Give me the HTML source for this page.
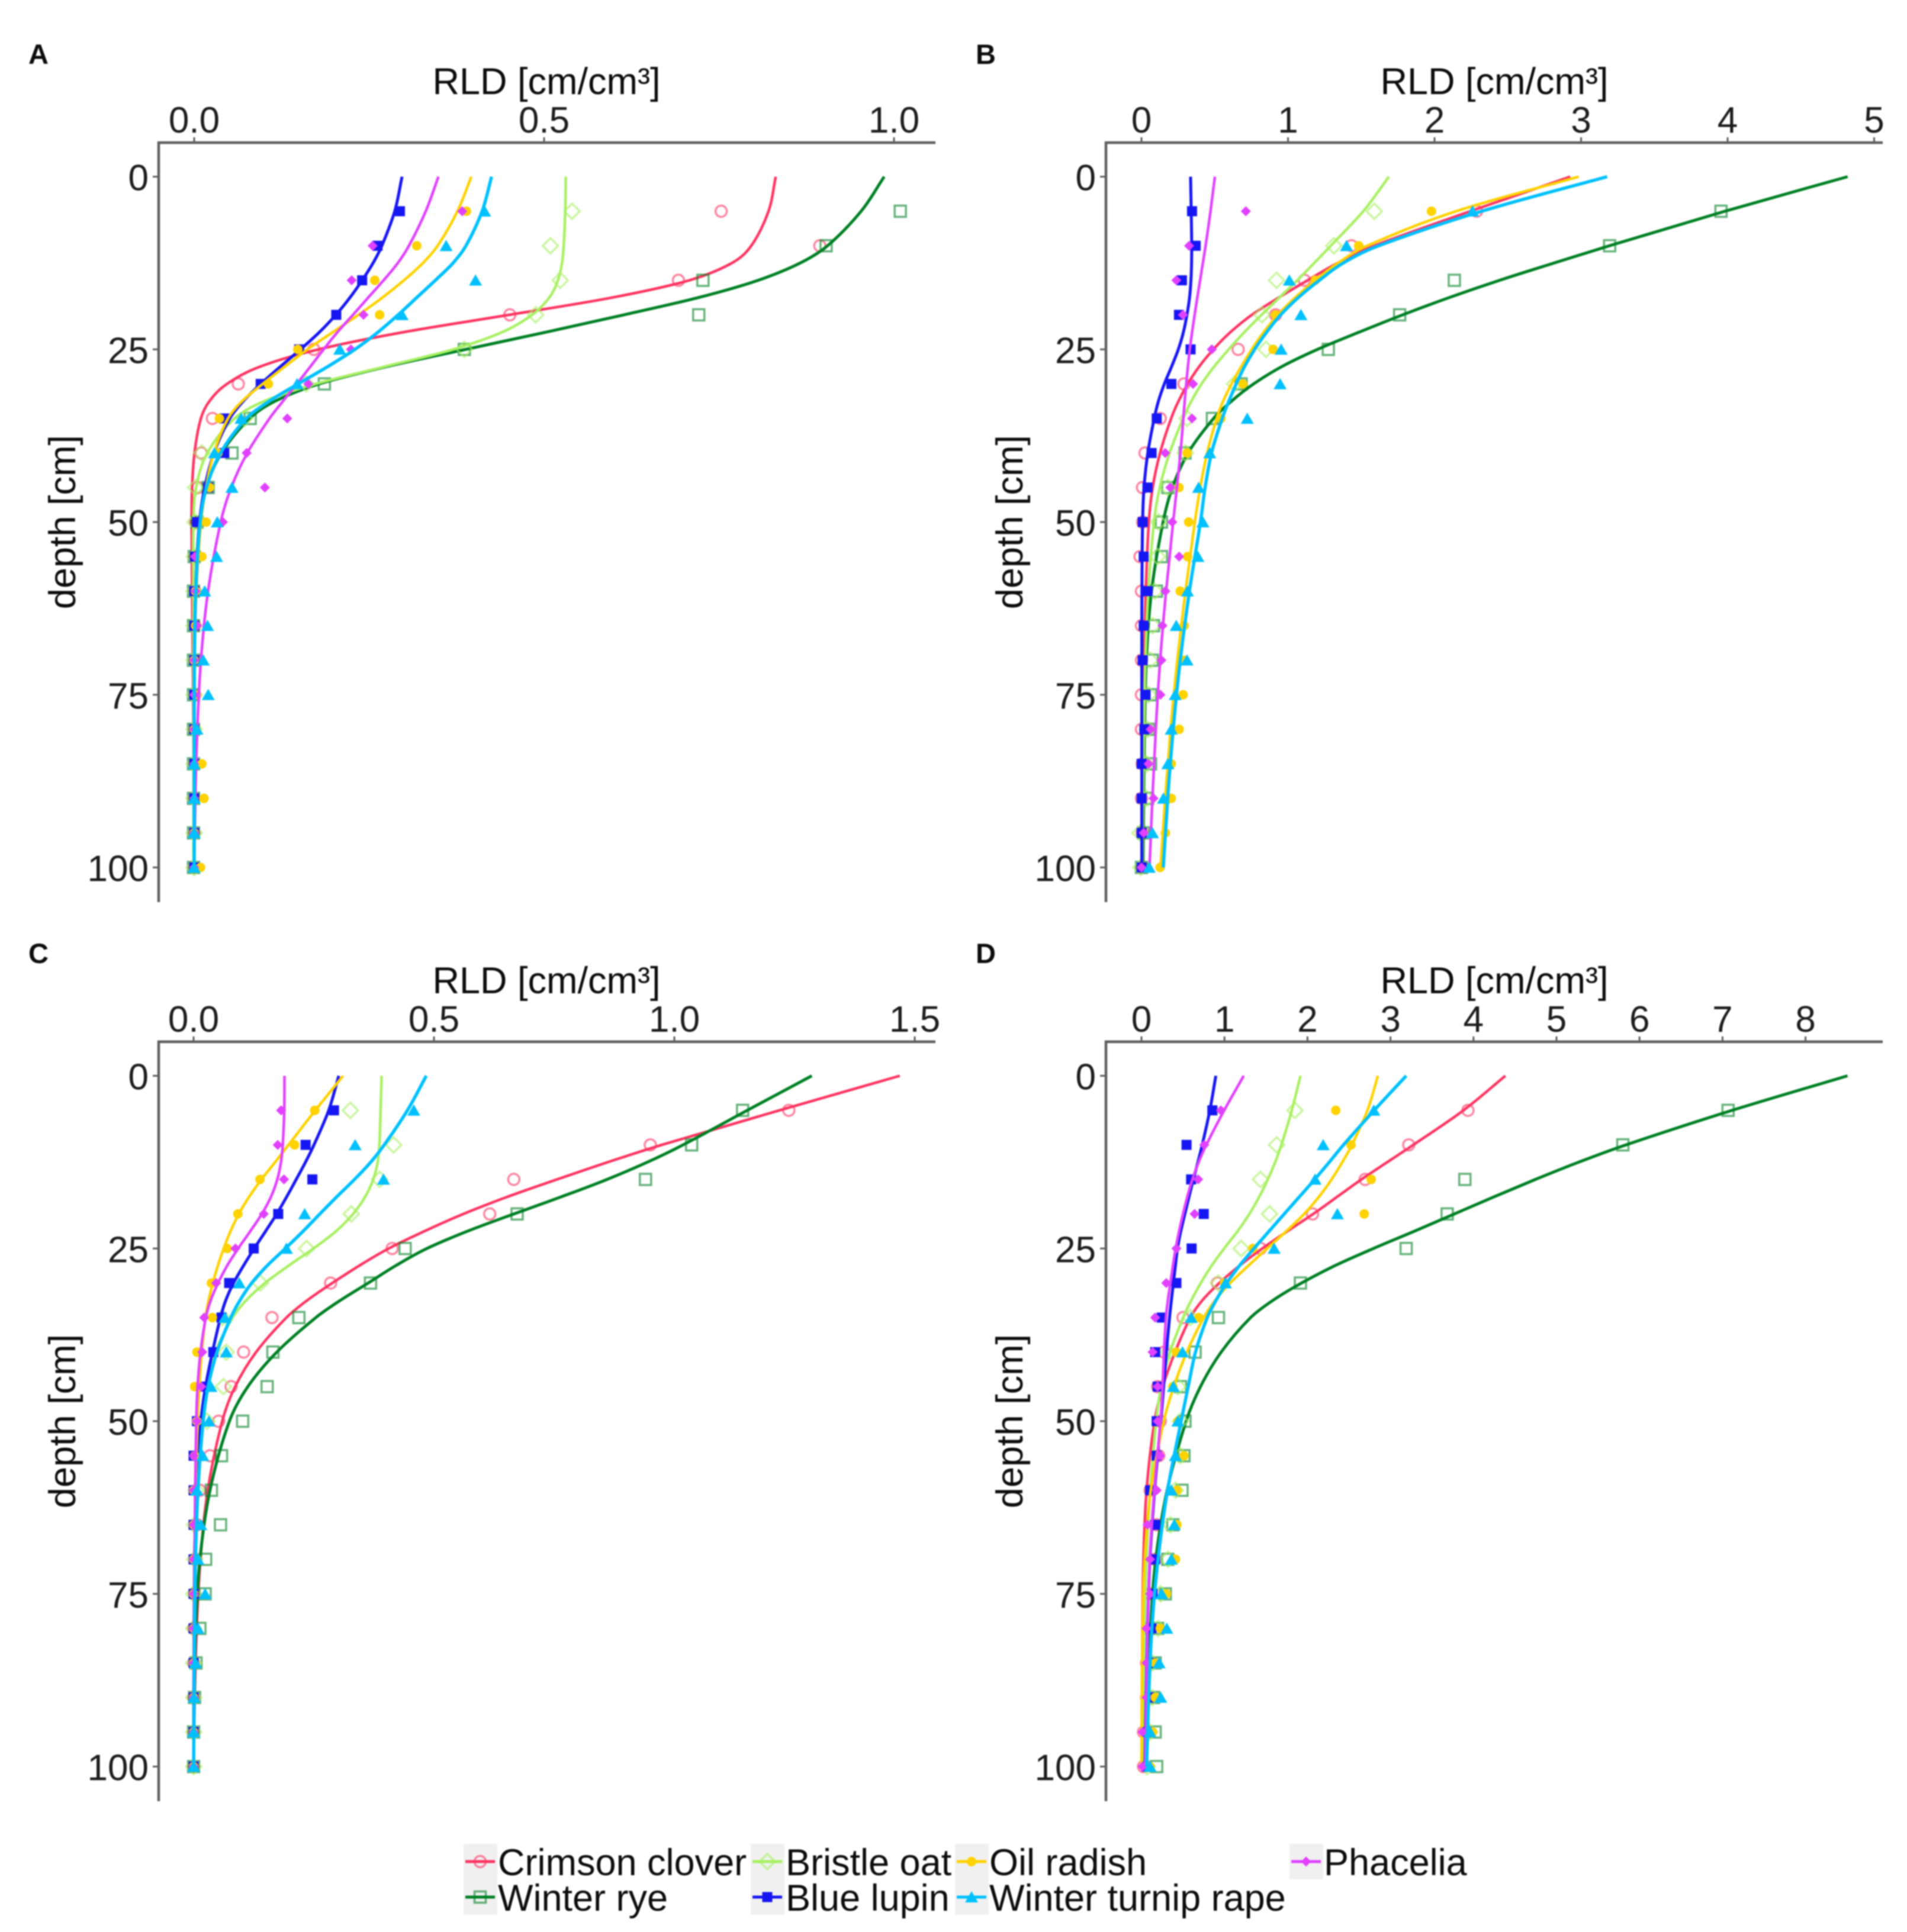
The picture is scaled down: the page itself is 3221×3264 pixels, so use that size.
<!DOCTYPE html>
<html>
<head>
<meta charset="utf-8">
<title>Root length density by depth</title>
<style>
html,body{margin:0;padding:0;background:#fff;}
svg{display:block;filter:blur(1.1px);}
text{font-family:"Liberation Sans",sans-serif;}
.title{font-size:63px;fill:#0c0c0c;}
.legend-text{font-size:63px;fill:#0c0c0c;}
.letter{font-size:47px;font-weight:bold;fill:#0c0c0c;}
.tick{font-size:62px;fill:#1c1c1c;}
</style>
</head>
<body>
<svg id="chart" xmlns="http://www.w3.org/2000/svg" width="3221" height="3264" viewBox="0 0 3221 3264">
<rect x="0" y="0" width="3221" height="3264" fill="#ffffff"/>
<text class="letter" x="48" y="108">A</text>
<text class="letter" x="1648" y="108">B</text>
<text class="letter" x="48" y="1627">C</text>
<text class="letter" x="1648" y="1627">D</text>
<text class="title" x="923" y="159" text-anchor="middle">RLD [cm/cm³]</text>
<text class="title" x="2524" y="159" text-anchor="middle">RLD [cm/cm³]</text>
<text class="title" x="923" y="1678" text-anchor="middle">RLD [cm/cm³]</text>
<text class="title" x="2524" y="1678" text-anchor="middle">RLD [cm/cm³]</text>
<text class="title" transform="translate(127,882) rotate(-90)" text-anchor="middle">depth [cm]</text>
<text class="title" transform="translate(1727,882) rotate(-90)" text-anchor="middle">depth [cm]</text>
<text class="title" transform="translate(127,2401) rotate(-90)" text-anchor="middle">depth [cm]</text>
<text class="title" transform="translate(1727,2401) rotate(-90)" text-anchor="middle">depth [cm]</text>
<rect x="783" y="3115" width="57" height="60" fill="#f0f0f0"/>
<rect x="783" y="3175" width="57" height="60" fill="#f0f0f0"/>
<rect x="1268" y="3115" width="57" height="60" fill="#f0f0f0"/>
<rect x="1268" y="3175" width="57" height="60" fill="#f0f0f0"/>
<rect x="1613" y="3115" width="57" height="60" fill="#f0f0f0"/>
<rect x="1613" y="3175" width="57" height="60" fill="#f0f0f0"/>
<rect x="2178" y="3115" width="57" height="60" fill="#f0f0f0"/>
<text class="legend-text" x="841" y="3168">Crimson clover</text>
<text class="legend-text" x="841" y="3228">Winter rye</text>
<text class="legend-text" x="1327" y="3168">Bristle oat</text>
<text class="legend-text" x="1327" y="3228">Blue lupin</text>
<text class="legend-text" x="1671" y="3168">Oil radish</text>
<text class="legend-text" x="1671" y="3228">Winter turnip rape</text>
<text class="legend-text" x="2236" y="3168">Phacelia</text>
</svg>
<script>
// Depth categories
const markerDepths = [5,10,15,20,25,30,35,40,45,50,55,60,65,70,75,80,85,90,95,100];
const curveDepths = [0,5,10,12.5,15,17.5,20,22.5,25,27.5,30,32.5,35,40,45,50,60,70,80,90,100];
const depthTicks = [0,25,50,75,100];

// Tick labels
const xTicksA = [0,0.5,1];
const xLabelsA = ['0.0','0.5','1.0'];
const xTicksB = [0,1,2,3,4,5];
const xLabelsB = ['0','1','2','3','4','5'];
const xTicksC = [0,0.5,1,1.5];
const xLabelsC = ['0.0','0.5','1.0','1.5'];
const xTicksD = [0,1,2,3,4,5,6,7,8];
const xLabelsD = ['0','1','2','3','4','5','6','7','8'];

// Panel A measured points
const aCrimsonPts = [.753,.894,.692,.451,.171,.063,.026,.010,.005,.002,.001,.001,.001,.001,.001,0,0,0,0,0];
const aRyePts = [1.009,.903,.727,.721,.386,.186,.080,.054,.020,.004,0,-.001,-.001,-.001,-.001,-.001,-.001,-.001,-.001,-.001];
const aBristlePts = [.540,.509,.523,.488,.386,.160,.072,.011,.002,.001,0,0,0,0,0,0,0,0,0,0];
const aLupinPts = [.294,.262,.240,.203,.150,.095,.043,.043,.020,.004,.001,0,0,0,0,0,0,0,0,0];
const aOilPts = [.389,.318,.258,.265,.148,.106,.036,.034,.022,.017,.011,.002,.002,0,.002,0,.011,.014,0,.009];
const aPhaceliaPts = [.383,.255,.225,.242,.224,.163,.133,.075,.101,.041,.001,.002,.004,0,0,0,0,0,0,0];
const aRapePts = [.415,.360,.402,.297,.208,.147,.067,.029,.054,.033,.032,.015,.019,.013,.020,.004,0,0,0,0];
// Panel A fitted curves
const aCrimsonFit = [.831,.827,.801,.778,.727,.611,.452,.286,.166,.080,.041,.018,.006,-.001,-.004,-.004,-.003,-.002,-.001,-.001,0];
const aRyeFit = [.986,.959,.912,.872,.814,.731,.611,.507,.387,.271,.163,.109,.072,.033,.013,.005,.001,0,0,0,0];
const aBristleFit = [.531,.531,.528,.527,.521,.512,.488,.449,.384,.271,.163,.090,.047,.011,-.001,-.002,-.001,-.001,-.001,-.001,-.001];
const aLupinFit = [.297,.291,.269,.257,.240,.224,.203,.181,.152,.123,.094,.069,.046,.025,.014,.005,.001,0,0,0,0];
const aOilFit = [.396,.380,.351,.329,.300,.271,.235,.199,.159,.130,.098,.065,.043,.025,.017,.007,.002,0,0,0,0];
const aPhaceliaFit = [.349,.334,.308,.293,.271,.248,.228,.203,.185,.166,.147,.127,.106,.072,.051,.035,.017,.008,.004,.001,0];
const aRapeFit = [.425,.416,.391,.373,.344,.318,.292,.264,.232,.192,.148,.106,.065,.033,.014,.006,.001,0,0,0,0];

// Panel B measured points
const bCrimsonPts = [2.287,1.434,1.112,.915,.660,.290,.128,.024,.007,.008,-.01,0,0,0,0,0,.005,0,.005,.005];
const bRyePts = [3.955,3.195,2.135,1.762,1.275,.680,.484,.297,.180,.136,.136,.102,.082,.073,.062,.048,.062,.042,.014,0];
const bBristlePts = [1.589,1.313,.922,.822,.850,.636,.311,.300,.180,.117,.110,.090,.076,.059,.048,.041,.035,.035,-.01,-.005];
const bLupinPts = [.345,.370,.276,.256,.335,.204,.104,.069,.041,.008,.015,.042,.015,.008,.028,.020,.001,.001,.001,.001];
const bOilPts = [1.979,1.482,1.185,.915,.898,.691,.542,.311,.256,.322,.314,.264,.291,.290,.284,.257,.203,.203,.163,.127];
const bPhaceliaPts = [.712,.325,.238,.283,.480,.352,.345,.162,.197,.210,.257,.163,.143,.136,.129,.062,.048,.082,.015,0];
const bRapePts = [2.259,1.399,1.009,1.088,.953,.946,.722,.466,.390,.419,.385,.314,.237,.311,.230,.203,.180,.150,.075,.053];
// Panel B fitted curves
const bCrimsonFit = [2.926,2.252,1.527,1.337,1.130,.940,.732,.601,.484,.387,.311,.249,.197,.117,.069,.042,.028,.017,.008,.004,.002];
const bRyeFit = [4.819,3.955,3.185,2.822,2.425,2.097,1.769,1.492,1.181,.940,.750,.611,.473,.290,.200,.140,.048,.028,.020,.015,.010];
const bBristleFit = [1.689,1.544,1.285,1.181,1.067,.940,.819,.698,.594,.491,.404,.335,.283,.180,.117,.076,.040,.025,.015,.010,.005];
const bLupinFit = [.335,.339,.345,.342,.339,.332,.311,.290,.256,.207,.152,.111,.086,.035,.012,.005,.002,.002,.002,.002,.002];
const bOilFit = [2.984,2.028,1.492,1.337,1.181,1.043,.922,.829,.750,.680,.611,.553,.508,.440,.400,.360,.300,.240,.195,.160,.130];
const bPhaceliaFit = [.501,.473,.439,.418,.401,.380,.363,.345,.328,.317,.305,.295,.285,.270,.240,.217,.165,.123,.096,.073,.055];
const bRapeFit = [3.178,2.252,1.561,1.354,1.216,1.060,.940,.853,.767,.698,.646,.594,.549,.463,.430,.412,.318,.261,.213,.176,.149];

// Panel C measured points
const cCrimsonPts = [1.238,.950,.666,.616,.413,.285,.163,.104,.078,.052,.034,.013,.007,.005,.002,0,0,0,0,0];
const cRyePts = [1.142,1.036,.940,.673,.440,.368,.219,.165,.153,.102,.058,.037,.056,.025,.024,.013,.005,.002,0,0];
const cBristlePts = [.326,.416,.387,.328,.235,.139,.060,.068,.062,.028,.007,.005,.002,.002,0,0,0,0,0,0];
const cLupinPts = [.292,.233,.247,.176,.125,.074,.058,.041,.018,.007,0,0,0,0,0,0,0,0,0,0];
const cOilPts = [.252,.210,.138,.092,.070,.037,.039,.007,.002,.007,.002,0,0,0,0,0,0,0,0,0];
const cPhaceliaPts = [.182,.175,.188,.146,.087,.047,.022,.018,.016,.007,0,0,0,0,0,0,0,0,0,0];
const cRapePts = [.458,.336,.395,.231,.193,.095,.065,.068,.036,.032,.019,.007,.015,.009,.024,.009,.004,.001,0,0];
// Panel C fitted curves
const cCrimsonFit = [1.469,1.219,.966,.861,.756,.650,.555,.482,.397,.345,.287,.234,.187,.123,.081,.055,.023,.013,.005,.002,0];
const cRyeFit = [1.286,1.149,1.024,.945,.866,.766,.666,.566,.476,.418,.366,.302,.250,.165,.107,.065,.028,.009,.003,.001,0];
const cBristleFit = [.391,.389,.387,.385,.376,.360,.334,.302,.250,.197,.144,.107,.076,.039,.023,.013,.004,.002,.001,.001,0];
const cLupinFit = [.302,.287,.250,.234,.213,.194,.174,.150,.125,.104,.081,.065,.055,.039,.023,.013,.003,.001,.001,0,0];
const cOilFit = [.311,.252,.197,.171,.139,.115,.092,.076,.062,.050,.039,.031,.023,.016,.012,.007,.003,.001,.001,0,0];
const cPhaceliaFit = [.189,.190,.186,.183,.176,.163,.144,.118,.092,.068,.050,.034,.023,.013,.007,.005,.003,.002,.001,0,0];
const cRapeFit = [.484,.450,.397,.371,.336,.297,.262,.229,.192,.150,.118,.095,.076,.044,.028,.018,.007,.003,.002,.001,0];

// Panel D measured points
const dCrimsonPts = [3.933,3.220,2.695,2.061,1.433,.915,.500,.274,.195,.226,.207,.104,.183,.165,.104,.073,.061,.061,.024,.024];
const dRyePts = [7.067,5.799,3.896,3.683,3.189,1.915,.927,.646,.470,.524,.512,.488,.378,.317,.287,.195,.165,.146,.165,.183];
const dBristlePts = [1.848,1.628,1.433,1.543,1.201,.927,.590,.320,.440,.470,.470,.410,.350,.320,.230,.200,.130,.130,.100,.070];
const dLupinPts = [.854,.543,.598,.750,.604,.421,.244,.165,.195,.183,.183,.104,.165,.165,.134,.122,.122,.104,.073,.061];
const dOilPts = [2.341,2.524,2.768,2.683,1.341,1.000,.689,.420,.378,.440,.512,.427,.427,.410,.300,.226,.165,.165,.134,.104];
const dPhaceliaPts = [.957,.756,.683,.640,.421,.299,.165,.134,.195,.195,.226,.183,.073,.104,.104,.061,.061,.061,.012,.012];
const dRapePts = [2.799,2.189,2.091,2.360,1.598,1.012,.598,.494,.384,.439,.409,.360,.396,.360,.244,.305,.213,.232,.104,.104];
// Panel D fitted curves
const dCrimsonFit = [4.384,3.945,3.262,2.970,2.634,2.360,2.085,1.750,1.445,1.171,.927,.713,.561,.400,.240,.133,.038,.019,.010,.005,.002];
const dRyeFit = [8.506,7.067,5.799,5.256,4.738,4.250,3.762,3.305,2.780,2.300,1.915,1.567,1.262,.927,.690,.512,.276,.145,.100,.080,.060];
const dBristleFit = [1.915,1.823,1.689,1.616,1.524,1.427,1.305,1.171,.988,.835,.713,.591,.500,.317,.226,.165,.100,.050,.030,.020,.010];
const dLupinFit = [.896,.835,.732,.683,.622,.573,.524,.470,.427,.410,.385,.360,.335,.300,.265,.240,.150,.090,.070,.055,.040];
const dOilFit = [2.848,2.756,2.543,2.421,2.299,2.146,1.976,1.750,1.506,1.293,1.049,.878,.732,.530,.380,.252,.074,.026,.010,.002,0];
const dPhaceliaFit = [1.232,.988,.774,.683,.610,.549,.500,.451,.409,.378,.348,.317,.287,.270,.255,.240,.145,.086,.074,.057,.043];
const dRapeFit = [3.189,2.799,2.421,2.268,2.091,1.902,1.720,1.537,1.354,1.171,1.018,.896,.774,.622,.573,.478,.288,.192,.109,.085,.062];

// Drawing code
const svg = document.getElementById('chart');
const NS = 'http://www.w3.org/2000/svg';

function mk(tag, parent) {
  const el = document.createElementNS(NS, tag);
  parent.appendChild(el);
  return el;
}

function makeXScale(origin, pxPerUnit) { return function (v) { return origin + v * pxPerUnit; }; }
function makeYScale(origin, pxPerCm) { return function (d) { return origin + d * pxPerCm; }; }

// Pull each knot gently toward the chord of its neighbours so hand-read values do not kink the curve.
function relax(xs, ys, weight) {
  return xs.map(function (x, i) {
    if (i === 0 || i === xs.length - 1) return x;
    const t = (ys[i] - ys[i - 1]) / (ys[i + 1] - ys[i - 1]);
    const chord = xs[i - 1] + t * (xs[i + 1] - xs[i - 1]);
    return x * (1 - weight) + chord * weight;
  });
}

// Non-uniform Catmull-Rom curve with x as a function of depth.
function smoothPath(rawXs, ys) {
  let xs = relax(rawXs, ys, 0.4);
  xs = relax(xs, ys, 0.25);
  const n = xs.length;
  const m = [];
  for (let i = 0; i < n; i++) {
    if (i === 0) { m.push((xs[1] - xs[0]) / (ys[1] - ys[0])); }
    else if (i === n - 1) { m.push((xs[n - 1] - xs[n - 2]) / (ys[n - 1] - ys[n - 2])); }
    else { m.push((xs[i + 1] - xs[i - 1]) / (ys[i + 1] - ys[i - 1])); }
  }
  let out = 'M' + xs[0].toFixed(1) + ' ' + ys[0].toFixed(1);
  for (let i = 0; i < n - 1; i++) {
    const h = ys[i + 1] - ys[i];
    const c1x = xs[i] + m[i] * h / 3, c1y = ys[i] + h / 3;
    const c2x = xs[i + 1] - m[i + 1] * h / 3, c2y = ys[i + 1] - h / 3;
    out += 'C' + c1x.toFixed(1) + ' ' + c1y.toFixed(1) + ' ' + c2x.toFixed(1) + ' ' + c2y.toFixed(1) + ' ' + xs[i + 1].toFixed(1) + ' ' + ys[i + 1].toFixed(1);
  }
  return out;
}

function drawMarker(parent, shape, color, cx, cy, scale) {
  let el;
  const k = scale || 1;
  if (shape === 'open-circle') {
    el = mk('circle', parent);
    el.setAttribute('cx', cx); el.setAttribute('cy', cy); el.setAttribute('r', 9.5 * k);
    el.setAttribute('fill', 'none'); el.setAttribute('stroke', color);
    el.setAttribute('stroke-width', 3.5); el.setAttribute('stroke-opacity', 0.6);
  } else if (shape === 'open-square') {
    const a = 9.5 * k;
    el = mk('rect', parent);
    el.setAttribute('x', cx - a); el.setAttribute('y', cy - a);
    el.setAttribute('width', 2 * a); el.setAttribute('height', 2 * a);
    el.setAttribute('fill', 'none'); el.setAttribute('stroke', color);
    el.setAttribute('stroke-width', 3.5); el.setAttribute('stroke-opacity', 0.6);
  } else if (shape === 'open-diamond') {
    const a = 13 * k;
    el = mk('polygon', parent);
    el.setAttribute('points', cx + ',' + (cy - a) + ' ' + (cx + a) + ',' + cy + ' ' + cx + ',' + (cy + a) + ' ' + (cx - a) + ',' + cy);
    el.setAttribute('fill', 'none'); el.setAttribute('stroke', color);
    el.setAttribute('stroke-width', 3.5); el.setAttribute('stroke-opacity', 0.6);
  } else if (shape === 'circle') {
    el = mk('circle', parent);
    el.setAttribute('cx', cx); el.setAttribute('cy', cy); el.setAttribute('r', 8 * k);
    el.setAttribute('fill', color);
  } else if (shape === 'square') {
    const a = 8.5 * k;
    el = mk('rect', parent);
    el.setAttribute('x', cx - a); el.setAttribute('y', cy - a);
    el.setAttribute('width', 2 * a); el.setAttribute('height', 2 * a);
    el.setAttribute('fill', color);
  } else if (shape === 'diamond') {
    const a = 8.5 * k;
    el = mk('polygon', parent);
    el.setAttribute('points', cx + ',' + (cy - a) + ' ' + (cx + a) + ',' + cy + ' ' + cx + ',' + (cy + a) + ' ' + (cx - a) + ',' + cy);
    el.setAttribute('fill', color);
  } else {
    const a = 11 * k, t = 10 * k, b = 9 * k;
    el = mk('polygon', parent);
    el.setAttribute('points', cx + ',' + (cy - t) + ' ' + (cx + a) + ',' + (cy + b) + ' ' + (cx - a) + ',' + (cy + b));
    el.setAttribute('fill', color);
  }
  return el;
}

// Draw order: later series sit on top
const seriesKeys = ['crimson-clover','winter-rye','bristle-oat','blue-lupin','oil-radish','phacelia','winter-turnip-rape'];
const seriesColors = ['#ff3462','#008024','#a8f062','#1616f2','#ffd200','#e040ff','#00c0ff'];
const seriesShapes = ['open-circle','open-square','open-diamond','square','circle','diamond','triangle'];
const seriesWidths = [4.5,5,4.5,5,4.5,4.5,5.5];

const panelSeriesA = [[aCrimsonPts,aCrimsonFit],[aRyePts,aRyeFit],[aBristlePts,aBristleFit],[aLupinPts,aLupinFit],[aOilPts,aOilFit],[aPhaceliaPts,aPhaceliaFit],[aRapePts,aRapeFit]];
const panelSeriesB = [[bCrimsonPts,bCrimsonFit],[bRyePts,bRyeFit],[bBristlePts,bBristleFit],[bLupinPts,bLupinFit],[bOilPts,bOilFit],[bPhaceliaPts,bPhaceliaFit],[bRapePts,bRapeFit]];
const panelSeriesC = [[cCrimsonPts,cCrimsonFit],[cRyePts,cRyeFit],[cBristlePts,cBristleFit],[cLupinPts,cLupinFit],[cOilPts,cOilFit],[cPhaceliaPts,cPhaceliaFit],[cRapePts,cRapeFit]];
const panelSeriesD = [[dCrimsonPts,dCrimsonFit],[dRyePts,dRyeFit],[dBristlePts,dBristleFit],[dLupinPts,dLupinFit],[dOilPts,dOilFit],[dPhaceliaPts,dPhaceliaFit],[dRapePts,dRapeFit]];

function drawPanel(id, left, top, x0, pxPerUnit, xTicks, xLabels, seriesData) {
  const xs = makeXScale(x0, pxPerUnit);
  const ys = makeYScale(top + 57.5, 11.67);
  const g = mk('g', svg);
  
  

  const axisX = mk('line', g);
  
  
  axisX.setAttribute('x1', left - 2); axisX.setAttribute('y1', top);
  axisX.setAttribute('x2', left + 1312); axisX.setAttribute('y2', top);
  axisX.setAttribute('stroke', '#5e5e5e'); axisX.setAttribute('stroke-width', 4.5);

  const axisY = mk('line', g);
  
  
  axisY.setAttribute('x1', left); axisY.setAttribute('y1', top - 2);
  axisY.setAttribute('x2', left); axisY.setAttribute('y2', top + 1283);
  axisY.setAttribute('stroke', '#5e5e5e'); axisY.setAttribute('stroke-width', 4.5);

  xTicks.forEach(function (v, i) {
    const t = mk('line', g);
    
    
    t.setAttribute('x1', xs(v)); t.setAttribute('x2', xs(v));
    t.setAttribute('y1', top - 9); t.setAttribute('y2', top);
    t.setAttribute('stroke', '#5e5e5e'); t.setAttribute('stroke-width', 3);
    const lab = mk('text', g);
    
    
    lab.setAttribute('class', 'tick');
    lab.setAttribute('x', xs(v)); lab.setAttribute('y', top - 17);
    lab.setAttribute('text-anchor', 'middle');
    lab.textContent = xLabels[i];
  });

  depthTicks.forEach(function (d) {
    const t = mk('line', g);
    
    
    t.setAttribute('x1', left - 10); t.setAttribute('x2', left);
    t.setAttribute('y1', ys(d)); t.setAttribute('y2', ys(d));
    t.setAttribute('stroke', '#5e5e5e'); t.setAttribute('stroke-width', 3);
    const lab = mk('text', g);
    
    
    lab.setAttribute('class', 'tick');
    lab.setAttribute('x', left - 17); lab.setAttribute('y', ys(d) + 23);
    lab.setAttribute('text-anchor', 'end');
    lab.textContent = String(d);
  });

  seriesData.forEach(function (pair, s) {
    const pts = pair[0], fit = pair[1];
    const px = fit.map(function (v) { return xs(v); });
    const py = curveDepths.map(function (d) { return ys(d); });
    const path = mk('path', g);
    
    
    path.setAttribute('d', smoothPath(px, py));
    path.setAttribute('fill', 'none');
    path.setAttribute('stroke', seriesColors[s]);
    path.setAttribute('stroke-width', seriesWidths[s]);
    pts.forEach(function (v, i) {
      const m = drawMarker(g, seriesShapes[s], seriesColors[s], xs(v), ys(markerDepths[i]));
      
      
    });
  });
}

drawPanel('a', 268, 241, 328, 1182, xTicksA, xLabelsA, panelSeriesA);
drawPanel('b', 1868, 241, 1928, 247.5, xTicksB, xLabelsB, panelSeriesB);
drawPanel('c', 268, 1760, 327, 812, xTicksC, xLabelsC, panelSeriesC);
drawPanel('d', 1868, 1760, 1928, 140.2, xTicksD, xLabelsD, panelSeriesD);

// Legend key glyphs
const legendKeyLeft = [783,783,1268,1268,1613,2178,1613];
const legendKeyRow = [3145,3205,3145,3205,3145,3145,3205];
seriesKeys.forEach(function (key, s) {
  const cy = legendKeyRow[s];
  const x1 = legendKeyLeft[s] + 3;
  const ln = mk('line', svg);
  
  
  ln.setAttribute('x1', x1); ln.setAttribute('x2', x1 + 50);
  ln.setAttribute('y1', cy); ln.setAttribute('y2', cy);
  ln.setAttribute('stroke', seriesColors[s]); ln.setAttribute('stroke-width', 5);
  const m = drawMarker(svg, seriesShapes[s], seriesColors[s], x1 + 25, cy);
  
  
});
</script>
</body>
</html>
